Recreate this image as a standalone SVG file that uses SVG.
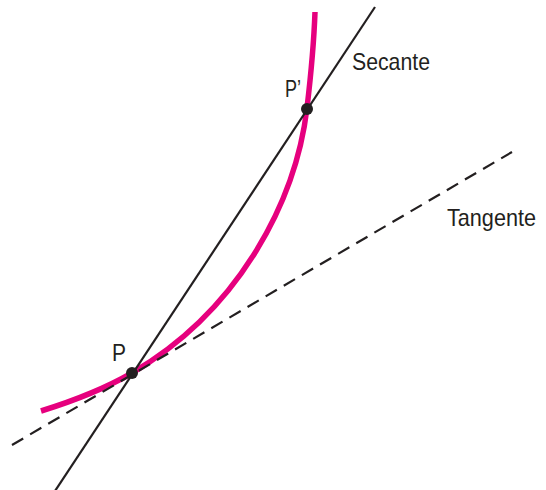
<svg xmlns="http://www.w3.org/2000/svg" width="546" height="490" viewBox="0 0 546 490">
<style>
.curve{fill:none;stroke:#E6007E;stroke-width:5.5;stroke-linecap:butt}
.line{fill:none;stroke:#231F20;stroke-width:2.2}
.dash{stroke-dasharray:13 8}
.dot{fill:#231F20}
.lbl{font-family:"Liberation Sans",Arial,sans-serif;font-size:24px;fill:#231F20}
</style>
<rect width="546" height="490" fill="#fff"/>
<g id="curve">
<path class="curve" d="M41,411 C70,402 106,388 132,373 C240,310 296,200 307,108 C311,74 314,40 315,12"/>
</g>
<g id="connectors">
<line id="secant" class="line" x1="375" y1="7" x2="55" y2="491"/>
<line id="tangent" class="line dash" x1="12" y1="445" x2="512" y2="152"/>
</g>
<g id="label-secante"><text class="lbl" x="352" y="70" textLength="78" lengthAdjust="spacingAndGlyphs">Secante</text></g>
<g id="label-tangente"><text class="lbl" x="447" y="226" textLength="89" lengthAdjust="spacingAndGlyphs">Tangente</text></g>
<g id="node-P">
<circle class="dot" cx="132" cy="373" r="6"/>
<text class="lbl" x="112" y="361" textLength="14" lengthAdjust="spacingAndGlyphs">P</text>
</g>
<g id="node-P-prime">
<circle class="dot" cx="307" cy="109" r="6"/>
<text class="lbl" x="285" y="97" textLength="16" lengthAdjust="spacingAndGlyphs">P’</text>
</g>
</svg>
